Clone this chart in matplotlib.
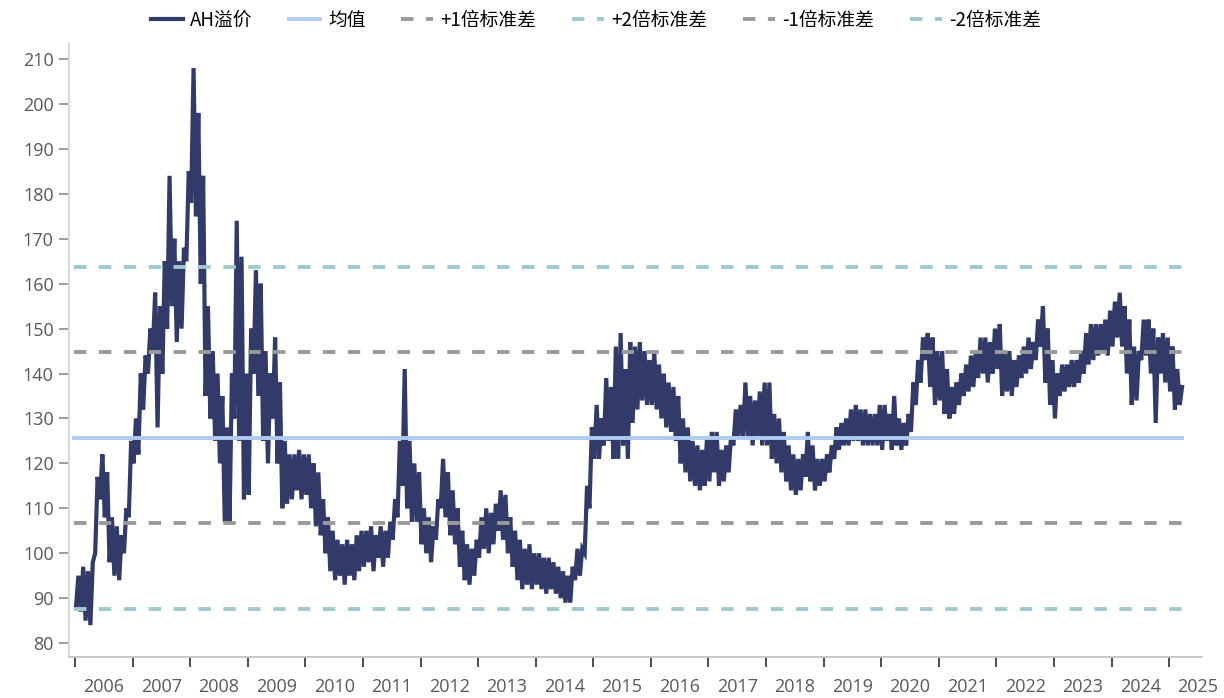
import numpy as np
import matplotlib
matplotlib.use('Agg')
import matplotlib.pyplot as plt

plt.rcParams['font.family'] = ['Open Sans', 'Noto Sans CJK SC', 'DejaVu Sans']

# monthly low / high of the AH premium index, Jan 2006 .. Mar 2025
month_lo = [
    88, 87, 85, 84, 100, 112, 108, 98, 95, 94, 100, 108,          # 2006
    120, 122, 132, 140, 145, 128, 140, 150, 155, 147, 150, 165,   # 2007
    178, 175, 160, 135, 130, 125, 120, 107, 107, 130, 125, 112,   # 2008
    113, 140, 135, 125, 120, 130, 120, 110, 111, 112, 114, 112,   # 2009
    113, 110, 106, 104, 100, 96, 94, 95, 93, 95, 94, 96,          # 2010
    97, 98, 96, 99, 97, 99, 103, 108, 115, 110, 107, 107,         # 2011
    102, 100, 98, 103, 110, 108, 104, 102, 97, 94, 93, 95,        # 2012
    99, 101, 100, 102, 105, 103, 100, 97, 94, 92, 93, 92,         # 2013
    93, 92, 91, 92, 91, 90, 89, 89, 94, 95, 100, 110,             # 2014
    121, 121, 124, 125, 121, 121, 124, 121, 129, 132, 134, 133,   # 2015
    133, 132, 130, 128, 127, 125, 120, 118, 116, 115, 114, 115,   # 2016
    116, 118, 115, 116, 118, 124, 126, 126, 126, 124, 126, 124,   # 2017
    124, 121, 120, 118, 116, 114, 113, 114, 117, 116, 114, 115,   # 2018
    116, 118, 121, 123, 124, 124, 125, 125, 124, 124, 124, 124,   # 2019
    123, 125, 123, 124, 123, 124, 127, 133, 138, 143, 137, 133,   # 2020
    134, 131, 130, 131, 133, 135, 136, 137, 139, 140, 138, 140,   # 2021
    141, 135, 136, 135, 137, 139, 140, 141, 143, 146, 138, 133,   # 2022
    130, 135, 136, 137, 137, 138, 140, 142, 143, 144, 145, 144,   # 2023
    146, 148, 146, 140, 133, 134, 143, 144, 140, 129, 140, 138,   # 2024
    136, 132, 133,                                                # 2025
]
month_hi = [
    95, 97, 96, 98, 117, 122, 118, 108, 106, 104, 110, 125,       # 2006
    130, 140, 144, 150, 158, 155, 165, 184, 170, 165, 168, 185,   # 2007
    208, 198, 184, 155, 145, 140, 135, 128, 140, 174, 166, 140,   # 2008
    150, 163, 160, 145, 140, 148, 138, 125, 122, 122, 123, 122,   # 2009
    122, 120, 118, 112, 108, 105, 103, 102, 103, 102, 104, 105,   # 2010
    105, 106, 104, 106, 105, 107, 112, 125, 141, 125, 120, 118,   # 2011
    110, 108, 106, 112, 121, 118, 114, 110, 105, 102, 101, 103,   # 2012
    108, 110, 109, 111, 114, 113, 108, 105, 103, 101, 102, 100,   # 2013
    100, 99, 99, 98, 97, 96, 95, 97, 101, 101, 115, 128,          # 2014
    133, 130, 139, 137, 146, 149, 141, 147, 146, 147, 145, 143,   # 2015
    145, 142, 140, 138, 137, 135, 130, 128, 125, 124, 123, 126,   # 2016
    127, 127, 123, 124, 126, 132, 133, 138, 135, 134, 136, 138,   # 2017
    138, 131, 130, 127, 124, 122, 121, 122, 127, 124, 121, 121,   # 2018
    122, 124, 128, 129, 130, 132, 133, 132, 132, 131, 131, 133,   # 2019
    133, 131, 135, 130, 129, 131, 138, 143, 148, 149, 148, 145,   # 2020
    145, 141, 137, 138, 140, 142, 144, 145, 148, 148, 147, 150,   # 2021
    151, 145, 145, 143, 144, 146, 148, 147, 152, 155, 150, 143,   # 2022
    140, 142, 142, 143, 143, 145, 149, 151, 151, 151, 152, 154,   # 2023
    156, 158, 155, 152, 146, 145, 152, 152, 150, 148, 149, 148,   # 2024
    146, 141, 137,                                                # 2025
]

mean_val = 125.7
std_val = 19.0
years = list(range(2006, 2026))

# build the time axis (fractional years), low then high inside each month
n = len(month_lo)
m = np.arange(n)
t = np.empty(2 * n)
v = np.empty(2 * n)
t[0::2] = 2006 + (m + 0.2) / 12
t[1::2] = 2006 + (m + 0.7) / 12
v[0::2] = month_lo
v[1::2] = month_hi

fig = plt.figure(figsize=(12.24, 6.98), dpi=100)
ax = fig.add_axes([0.0564, 0.0587, 0.9256, 0.878])

navy = '#323A6A'
ax.plot(t, v, color=navy, lw=3.0, label='AH溢价', zorder=2, solid_joinstyle='miter')

tt = np.array([t[0] - 0.03, t[-1]])
dash = (0, (3.2, 3.2))
lw_h = 2.8
ax.plot(tt, [mean_val] * 2, color='#AFCBF2', lw=lw_h, label='均值', zorder=3)
ax.plot(tt, [mean_val + std_val] * 2, color='#9A9A9A', lw=lw_h, ls=dash, label='+1倍标准差', zorder=3)
ax.plot(tt, [mean_val + 2 * std_val] * 2, color='#9FCAD1', lw=lw_h, ls=dash, label='+2倍标准差', zorder=3)
ax.plot(tt, [mean_val - std_val] * 2, color='#9A9A9A', lw=lw_h, ls=dash, label='-1倍标准差', zorder=3)
ax.plot(tt, [mean_val - 2 * std_val] * 2, color='#9FCAD1', lw=lw_h, ls=dash, label='-2倍标准差', zorder=3)

ax.set_xlim(2005.896, 2025.57)
ax.set_ylim(76.9, 213.3)
ax.set_yticks(np.arange(80, 211, 10))

ax.set_xticks(years)
ax.set_xticklabels([])
ax.set_xticks([y + 0.5 for y in years], minor=True)
ax.set_xticklabels([str(y) for y in years], minor=True)
ax.tick_params(axis='x', which='major', direction='out', length=7, width=1.3, color='#404040')
ax.tick_params(axis='x', which='minor', length=0, pad=15, labelsize=13, labelcolor='#595959')
ax.tick_params(axis='y', direction='out', length=7, width=1.2, color='#8C8C8C', pad=4,
               labelsize=13, labelcolor='#595959')

for s in ['top', 'right']:
    ax.spines[s].set_visible(False)
ax.spines['left'].set_color('#D9D9D9')
ax.spines['left'].set_linewidth(1.5)
ax.spines['bottom'].set_color('#BFBFBF')
ax.spines['bottom'].set_linewidth(1.2)

fig.legend(loc='center', bbox_to_anchor=(0.487, 0.971), ncol=6, frameon=False,
           handlelength=1.7, handletextpad=0.4, columnspacing=1.9,
           prop={'family': ['Noto Sans CJK SC', 'DejaVu Sans'], 'size': 13.5})

fig.savefig('out.png', dpi=100)
